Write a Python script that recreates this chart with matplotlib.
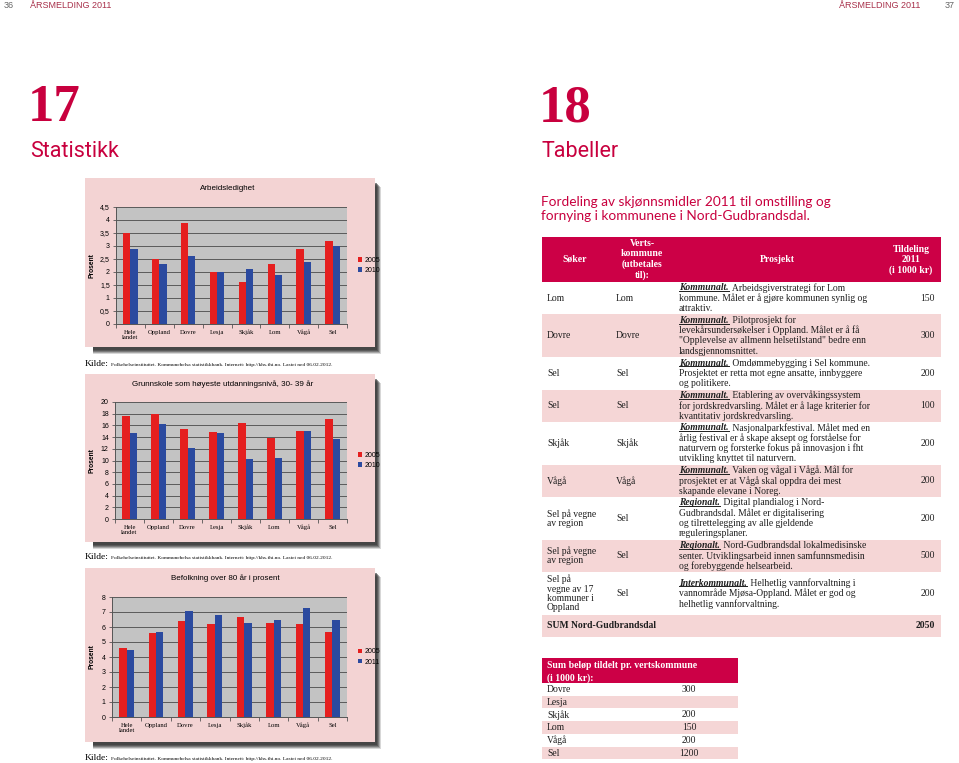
import matplotlib
matplotlib.use("Agg")
import numpy as np
import matplotlib.pyplot as plt
from matplotlib.patches import Rectangle
from matplotlib.lines import Line2D

W, H = 959, 763

# ---- chart data ----
kommuner = ["Hele\nlandet", "Oppland", "Dovre", "Lesja", "Skjåk", "Lom", "Vågå", "Sel"]

ledighet_2005 = [3.5, 2.5, 3.9, 2.0, 1.6, 2.3, 2.9, 3.2]
ledighet_2010 = [2.9, 2.3, 2.6, 2.0, 2.1, 1.9, 2.4, 3.0]

grunnskole_2005 = [17.6, 18.0, 15.4, 14.9, 16.4, 13.9, 15.0, 17.1]
grunnskole_2010 = [14.7, 16.3, 12.2, 14.7, 10.3, 10.5, 15.1, 13.6]

over80_2005 = [4.6, 5.6, 6.4, 6.2, 6.7, 6.3, 6.2, 5.7]
over80_2011 = [4.5, 5.7, 7.1, 6.8, 6.3, 6.5, 7.3, 6.5]

kilde = "Folkehelseinstituttet. Kommunehelsa statistikkbank. Internett: http://khs.fhi.no. Lastet ned 06.02.2012."

# ---- table data ----
soker = ["Lom", "Dovre", "Sel", "Sel", "Skjåk", "Vågå",
         "Sel på vegne\nav region", "Sel på vegne\nav region",
         "Sel på\nvegne av 17\nkommuner i\nOppland"]
vertskommune = ["Lom", "Dovre", "Sel", "Sel", "Skjåk", "Vågå", "Sel", "Sel", "Sel"]
niva = ["Kommunalt.", "Kommunalt.", "Kommunalt.", "Kommunalt.", "Kommunalt.",
        "Kommunalt.", "Regionalt.", "Regionalt.", "Interkommunalt."]
prosjekt = [
    [" Arbeidsgiverstrategi for Lom", "kommune. Målet er å gjøre kommunen synlig og", "attraktiv."],
    [" Pilotprosjekt for", "levekårsundersøkelser i Oppland. Målet er å få",
     "\"Opplevelse av allmenn helsetilstand\" bedre enn", "landsgjennomsnittet."],
    [" Omdømmebygging i Sel kommune.", "Prosjektet er retta mot egne ansatte, innbyggere", "og politikere."],
    [" Etablering av overvåkingssystem", "for jordskredvarsling. Målet er å lage kriterier for",
     "kvantitativ jordskredvarsling."],
    [" Nasjonalparkfestival. Målet med en", "årlig festival er å skape aksept og forståelse for",
     "naturvern og forsterke fokus på innovasjon i fht", "utvikling knyttet til naturvern."],
    [" Vaken og vågal i Vågå. Mål for", "prosjektet er at Vågå skal oppdra dei mest",
     "skapande elevane i Noreg."],
    [" Digital plandialog i Nord-", "Gudbrandsdal. Målet er digitalisering",
     "og tilrettelegging av alle gjeldende", "reguleringsplaner."],
    [" Nord-Gudbrandsdal lokalmedisinske", "senter. Utviklingsarbeid innen samfunnsmedisin",
     "og forebyggende helsearbeid."],
    [" Helhetlig vannforvaltning i", "vannområde Mjøsa-Oppland. Målet er god og",
     "helhetlig vannforvaltning."],
]
tildeling = [150, 300, 200, 100, 200, 200, 200, 500, 200]
sum_total = 2050

sum_kommuner = ["Dovre", "Lesja", "Skjåk", "Lom", "Vågå", "Sel"]
sum_belop = ["300", "", "200", "150", "200", "1200"]

# ---- colours / fonts ----
CRIMSON = "#C8003E"
HEAD = "#CC0046"
PINK_ROW = "#F5D6D6"
FRAME = "#F3D3D3"
PLOT_BG = "#C3C3C3"
RED = "#E51F1F"
BLUE = "#2B4A9F"
TXT = "#1e1e1e"
SANS = ["Liberation Sans", "DejaVu Sans"]
SERIF = ["Liberation Serif", "DejaVu Serif"]
NARROW = ["Liberation Sans Narrow", "Roboto"]

fig = plt.figure(figsize=(W / 100, H / 100), dpi=100)
fig.patch.set_facecolor("white")


def ftxt(x, y, s, **kw):
    return fig.text(x / W, 1 - y / H, s, **kw)


def frect(x0, y0, x1, y1, color, z=-2, alpha=1.0):
    fig.add_artist(Rectangle((x0 / W, 1 - y1 / H), (x1 - x0) / W, (y1 - y0) / H,
                             transform=fig.transFigure, facecolor=color,
                             edgecolor="none", zorder=z, alpha=alpha))


# -----------------------------
# Page headers
# -----------------------------
ftxt(4, 6, "36", fontsize=6.5, color="#666666", family=SANS, va="center")
ftxt(30, 6, "ÅRSMELDING 2011", fontsize=6.5, color="#A8304A", family=SANS, va="center")
ftxt(920, 6, "ÅRSMELDING 2011", fontsize=6.5, color="#A8304A", family=SANS, va="center", ha="right")
ftxt(955, 6, "37", fontsize=6.5, color="#666666", family=SANS, va="center", ha="right")

ftxt(28, 121, "17", fontsize=38, fontweight="bold", color=CRIMSON, family=SERIF, va="baseline")
ftxt(30, 157, "Statistikk", fontsize=15.5, color=CRIMSON, family=NARROW, va="baseline")
ftxt(539, 121, "18", fontsize=38, fontweight="bold", color=CRIMSON, family=SERIF, va="baseline")
ftxt(541, 157, "Tabeller", fontsize=15.5, color=CRIMSON, family=NARROW, va="baseline")


# -----------------------------
# Bar charts
# -----------------------------
def bar_chart(frame, plot, title, title_x, v1, v2, years, ymax, step, kilde_y):
    fx0, fy0, fx1, fy1 = frame
    # soft shadow
    for off, a in [(7, 0.2), (6, 0.3), (5, 0.4), (4, 0.5), (3, 0.6)]:
        frect(fx0 + 8, fy0 + off + 2, fx1 + off - 1, fy1 + off, "#3a3a3a", z=-4, alpha=a)
    frect(fx0, fy0, fx1, fy1, FRAME, z=-2)

    px0, py0, px1, py1 = plot
    ax = fig.add_axes([px0 / W, 1 - py1 / H, (px1 - px0) / W, (py1 - py0) / H])
    ax.set_facecolor(PLOT_BG)
    x = np.arange(len(kommuner))
    ax.bar(x - 0.125, v1, 0.25, color=RED, label=years[0], zorder=3)
    ax.bar(x + 0.125, v2, 0.25, color=BLUE, label=years[1], zorder=3)
    ax.set_xlim(-0.5, len(kommuner) - 0.5)
    ax.set_ylim(0, ymax)
    ticks = np.arange(0, ymax + step / 2, step)
    ax.set_yticks(ticks)
    ax.set_yticklabels([("%g" % t).replace(".", ",") for t in ticks],
                       fontsize=5, family=SANS)
    ax.yaxis.grid(True, color="#4a4a4a", lw=0.6)
    ax.set_axisbelow(True)
    for s in ["top", "right"]:
        ax.spines[s].set_visible(False)
    for s in ["left", "bottom"]:
        ax.spines[s].set_color("#555555")
        ax.spines[s].set_linewidth(0.7)
    ax.set_xticks(x)
    ax.set_xticklabels(kommuner, fontsize=4.8, family=SERIF)
    ax.set_xticks(np.arange(-0.5, len(kommuner), 1), minor=True)
    ax.tick_params(axis="x", which="major", length=0, pad=4)
    ax.tick_params(axis="x", which="minor", length=3, color="#555555", width=0.6)
    ax.tick_params(axis="y", length=2.5, color="#555555", width=0.6, pad=2)
    ax.set_ylabel("Prosent", fontsize=4.8, fontweight="bold", family=SANS)
    ax.yaxis.set_label_coords((96 - px0) / (px1 - px0), 0.5)
    ax.legend(loc="center left", bbox_to_anchor=(1.02, 0.5), frameon=False,
              prop={"family": SANS, "size": 5}, handlelength=0.6, handleheight=0.6,
              handletextpad=0.4, labelspacing=0.45)
    ftxt(title_x, fy0 + 10, title, fontsize=5.8, family=SANS, ha="center", va="center")

    ftxt(85, kilde_y, "Kilde:", fontsize=6.8, family=SERIF, va="baseline")
    ftxt(111, kilde_y, kilde, fontsize=3.9, family=SERIF, va="baseline")


bar_chart((85, 178, 375, 347), (116, 207, 347, 324), "Arbeidsledighet", 228,
          ledighet_2005, ledighet_2010, ["2005", "2010"], 4.5, 0.5, 366)
bar_chart((85, 374, 375, 542), (115, 402, 347, 519),
          "Grunnskole som høyeste utdanningsnivå, 30- 39 år", 223,
          grunnskole_2005, grunnskole_2010, ["2005", "2010"], 20, 2, 559)
bar_chart((85, 568, 375, 742), (112, 597, 347, 717), "Befolkning over 80 år i prosent", 225,
          over80_2005, over80_2011, ["2005", "2011"], 8, 1, 760)


# -----------------------------
# Right page: table
# -----------------------------
fig.canvas.draw()
renderer = fig.canvas.get_renderer()

ftxt(541, 202, "Fordeling av skjønnsmidler 2011 til omstilling og", fontsize=9.8,
     color=CRIMSON, family=["Lato", "DejaVu Sans"], va="center")
ftxt(541, 215.5, "fornying i kommunene i Nord-Gudbrandsdal.", fontsize=9.8,
     color=CRIMSON, family=["Lato", "DejaVu Sans"], va="center")

TX0, TX1 = 542, 941
COL1, COL2, COL3, COL4 = 547, 616, 679, 935
FS = 6.9
LINE = 10.3

frect(TX0, 237, TX1, 282, HEAD, z=-1)
hd = dict(color="white", fontweight="bold", family=SERIF, fontsize=7.0,
          ha="center", va="center", linespacing=1.2)
ftxt(575, 259.5, "Søker", **hd)
ftxt(642, 259.5, "Verts-\nkommune\n(utbetales\ntil):", **hd)
ftxt(777, 259.5, "Prosjekt", **hd)
ftxt(911, 260, "Tildeling\n2011\n(i 1000 kr)", **hd)

top = 282
for i in range(len(soker)):
    n_lines = max(len(prosjekt[i]), soker[i].count("\n") + 1)
    h = LINE * n_lines + 1.5
    if i % 2 == 1:
        frect(TX0, top, TX1, top + h, PINK_ROW, z=-1)
    cy = top + h / 2
    ftxt(COL1, cy, soker[i], fontsize=FS, family=SERIF, va="center", linespacing=1.05,
         color=TXT)
    ftxt(COL2, cy, vertskommune[i], fontsize=FS, family=SERIF, va="center", color=TXT)
    ftxt(COL4, cy, str(tildeling[i]), fontsize=FS, family=SERIF, va="center", ha="right",
         color=TXT)
    nl = len(prosjekt[i])
    for k, line in enumerate(prosjekt[i]):
        ly = cy + (k - (nl - 1) / 2) * LINE
        if k == 0:
            p = ftxt(COL3, ly, niva[i], fontsize=FS, family=SERIF, fontweight="bold",
                     fontstyle="italic", va="center", color=TXT)
            bb = p.get_window_extent(renderer)
            fig.add_artist(Line2D([bb.x0 / W, bb.x1 / W], [(bb.y0 + 1.2) / H] * 2,
                                  transform=fig.transFigure, color=TXT, lw=0.7))
            ftxt(bb.x1 + 1, ly, line, fontsize=FS, family=SERIF, va="center", color=TXT)
        else:
            ftxt(COL3, ly, line, fontsize=FS, family=SERIF, va="center", color=TXT)
    top += h

frect(TX0, top, TX1, top + 22, PINK_ROW, z=-1)
ftxt(COL1, top + 11, "SUM Nord-Gudbrandsdal", fontsize=FS, family=SERIF, fontweight="bold",
     va="center", color=TXT)
ftxt(COL4, top + 11, str(sum_total), fontsize=FS, family=SERIF, fontweight="bold",
     va="center", ha="right", color=TXT)

# sum per vertskommune
frect(TX0, 658, 738, 683, HEAD, z=-1)
ftxt(COL1, 666, "Sum beløp tildelt pr. vertskommune", color="white", fontweight="bold",
     family=SERIF, fontsize=7.0, va="center")
ftxt(COL1, 678, "(i 1000 kr):", color="white", fontweight="bold",
     family=SERIF, fontsize=7.0, va="center")
for i, (k, b) in enumerate(zip(sum_kommuner, sum_belop)):
    y0 = 683 + i * 12.7
    if i % 2 == 1:
        frect(TX0, y0, 738, y0 + 12.7, PINK_ROW, z=-1)
    ftxt(COL1, y0 + 6.5, k, fontsize=FS, family=SERIF, va="center", color=TXT)
    ftxt(689, y0 + 6.5, b, fontsize=FS, family=SERIF, va="center", ha="center", color=TXT)

fig.savefig("out.png", dpi=100)
